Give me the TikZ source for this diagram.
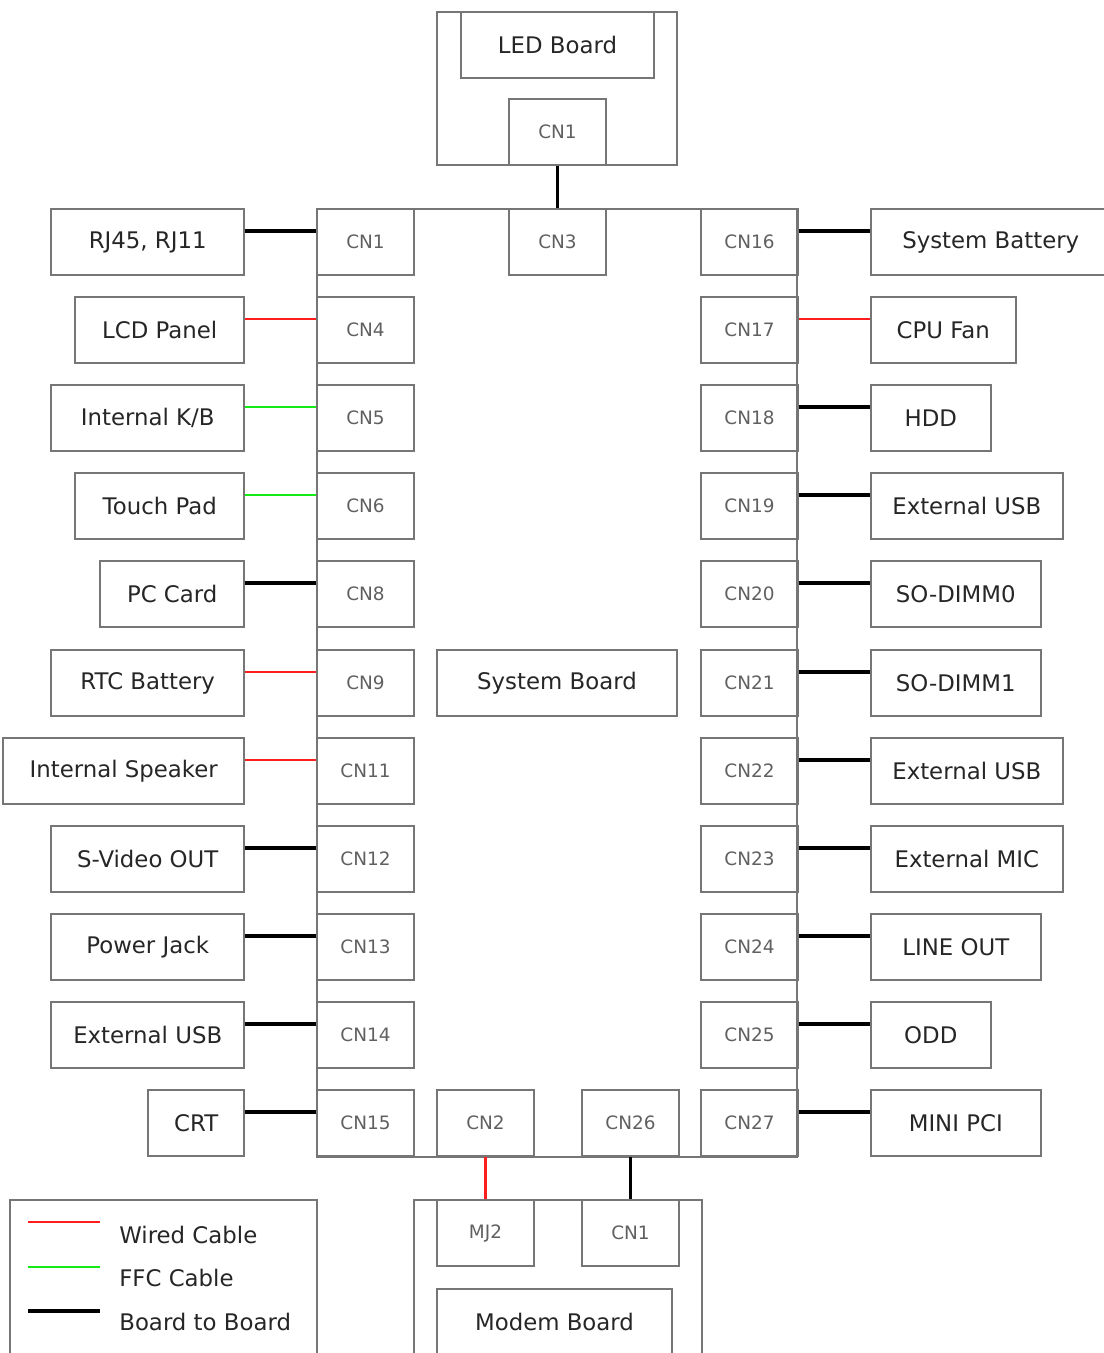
\documentclass[tikz,border=0pt]{standalone}
\usepackage{fontspec}
\setmainfont{DejaVu Sans}
\definecolor{edgegray}{RGB}{118,118,118}
\definecolor{wirered}{RGB}{255,30,30}
\definecolor{ffcgreen}{RGB}{20,235,20}

\begin{document}
\begin{tikzpicture}[
  x=0.02cm, y=-0.02cm,
  box/.style={draw=edgegray, line width=0.9pt, inner sep=0pt, minimum height=1.32cm, text=black!85},
  dev/.style={box, font=\fontsize{13}{15}\selectfont},
  cn/.style={box, minimum width=1.94cm, font=\fontsize{10.5}{12}\selectfont, text=gray!75!black},
  legtext/.style={anchor=west, inner sep=0pt, font=\fontsize{13}{15}\selectfont, text=black!85},
  wired/.style={draw=wirered, line width=1.6pt},
  ffc/.style={draw=ffcgreen, line width=1.6pt},
  b2b/.style={draw=black, line width=1.8pt},
]
\useasboundingbox (0,0) rectangle (1104,1353);

% LED board
\node[box, minimum width=4.8cm, minimum height=3.06cm] (ledb) at (557,88.5) {};
\node[dev, minimum width=3.86cm] (ledlbl) at (557.5,45) {LED Board};
\node[cn] (ledcn1) at (557.5,132) {CN1};

% System board
\node[box, minimum width=9.6cm, minimum height=18.96cm] (mainb) at (557,683) {};
\node[dev, minimum width=4.8cm] (sysb) at (557,683) {System Board};
\node[cn] (cn3) at (557.5,242) {CN3};

% left connectors
\node[cn] (cn1)  at (365.5,242)  {CN1};
\node[cn] (cn4)  at (365.5,330)  {CN4};
\node[cn] (cn5)  at (365.5,418)  {CN5};
\node[cn] (cn6)  at (365.5,506)  {CN6};
\node[cn] (cn8)  at (365.5,594)  {CN8};
\node[cn] (cn9)  at (365.5,683)  {CN9};
\node[cn] (cn11) at (365.5,771)  {CN11};
\node[cn] (cn12) at (365.5,859)  {CN12};
\node[cn] (cn13) at (365.5,947)  {CN13};
\node[cn] (cn14) at (365.5,1035) {CN14};
\node[cn] (cn15) at (365.5,1123) {CN15};

% right connectors
\node[cn] (cn16) at (749.5,242)  {CN16};
\node[cn] (cn17) at (749.5,330)  {CN17};
\node[cn] (cn18) at (749.5,418)  {CN18};
\node[cn] (cn19) at (749.5,506)  {CN19};
\node[cn] (cn20) at (749.5,594)  {CN20};
\node[cn] (cn21) at (749.5,683)  {CN21};
\node[cn] (cn22) at (749.5,771)  {CN22};
\node[cn] (cn23) at (749.5,859)  {CN23};
\node[cn] (cn24) at (749.5,947)  {CN24};
\node[cn] (cn25) at (749.5,1035) {CN25};
\node[cn] (cn27) at (749.5,1123) {CN27};

% bottom connectors
\node[cn] (cn2)  at (485.5,1123) {CN2};
\node[cn] (cn26) at (630.5,1123) {CN26};

% left devices
\node[dev, anchor=east, minimum width=3.86cm] (rj)      at (245,242)  {RJ45, RJ11};
\node[dev, anchor=east, minimum width=3.38cm] (lcd)     at (245,330)  {LCD Panel};
\node[dev, anchor=east, minimum width=3.86cm] (kb)      at (245,418)  {Internal K/B};
\node[dev, anchor=east, minimum width=3.38cm] (tpad)    at (245,506)  {Touch Pad};
\node[dev, anchor=east, minimum width=2.88cm] (pccard)  at (245,594)  {PC Card};
\node[dev, anchor=east, minimum width=3.86cm] (rtc)     at (245,683)  {RTC Battery};
\node[dev, anchor=east, minimum width=4.82cm] (spk)     at (245,771)  {Internal Speaker};
\node[dev, anchor=east, minimum width=3.86cm] (svideo)  at (245,859)  {S-Video OUT};
\node[dev, anchor=east, minimum width=3.86cm] (pwrjack) at (245,947)  {Power Jack};
\node[dev, anchor=east, minimum width=3.86cm] (usbL)    at (245,1035) {External USB};
\node[dev, anchor=east, minimum width=1.92cm] (crt)     at (245,1123) {CRT};

% right devices
\node[dev, anchor=west, minimum width=4.8cm]  (sysbat)  at (870,242)  {System Battery};
\node[dev, anchor=west, minimum width=2.9cm]  (fan)     at (870,330)  {CPU Fan};
\node[dev, anchor=west, minimum width=2.4cm]  (hdd)     at (870,418)  {HDD};
\node[dev, anchor=west, minimum width=3.84cm] (usbA)    at (870,506)  {External USB};
\node[dev, anchor=west, minimum width=3.4cm]  (dimm0)   at (870,594)  {SO-DIMM0};
\node[dev, anchor=west, minimum width=3.4cm]  (dimm1)   at (870,683)  {SO-DIMM1};
\node[dev, anchor=west, minimum width=3.84cm] (usbB)    at (870,771)  {External USB};
\node[dev, anchor=west, minimum width=3.84cm] (mic)     at (870,859)  {External MIC};
\node[dev, anchor=west, minimum width=3.4cm]  (lineout) at (870,947)  {LINE OUT};
\node[dev, anchor=west, minimum width=2.4cm]  (odd)     at (870,1035) {ODD};
\node[dev, anchor=west, minimum width=3.4cm]  (minipci) at (870,1123) {MINI PCI};

% Modem board
\node[box, minimum width=5.76cm, minimum height=3.6cm] (modemb) at (558,1290) {};
\node[cn] (mj2)   at (485.5,1233) {MJ2};
\node[cn] (mdcn1) at (630.5,1233) {CN1};
\node[dev, minimum width=4.7cm] (modemlbl) at (554.5,1322) {Modem Board};

% cables, left side
\draw[b2b]   ([yshift=2.2mm]rj.east)      -- ([yshift=2.2mm]cn1.west);
\draw[wired] ([yshift=2.2mm]lcd.east)     -- ([yshift=2.2mm]cn4.west);
\draw[ffc]   ([yshift=2.2mm]kb.east)      -- ([yshift=2.2mm]cn5.west);
\draw[ffc]   ([yshift=2.2mm]tpad.east)    -- ([yshift=2.2mm]cn6.west);
\draw[b2b]   ([yshift=2.2mm]pccard.east)  -- ([yshift=2.2mm]cn8.west);
\draw[wired] ([yshift=2.2mm]rtc.east)     -- ([yshift=2.2mm]cn9.west);
\draw[wired] ([yshift=2.2mm]spk.east)     -- ([yshift=2.2mm]cn11.west);
\draw[b2b]   ([yshift=2.2mm]svideo.east)  -- ([yshift=2.2mm]cn12.west);
\draw[b2b]   ([yshift=2.2mm]pwrjack.east) -- ([yshift=2.2mm]cn13.west);
\draw[b2b]   ([yshift=2.2mm]usbL.east)    -- ([yshift=2.2mm]cn14.west);
\draw[b2b]   ([yshift=2.2mm]crt.east)     -- ([yshift=2.2mm]cn15.west);

% cables, right side
\draw[b2b]   ([yshift=2.2mm]cn16.east) -- ([yshift=2.2mm]sysbat.west);
\draw[wired] ([yshift=2.2mm]cn17.east) -- ([yshift=2.2mm]fan.west);
\draw[b2b]   ([yshift=2.2mm]cn18.east) -- ([yshift=2.2mm]hdd.west);
\draw[b2b]   ([yshift=2.2mm]cn19.east) -- ([yshift=2.2mm]usbA.west);
\draw[b2b]   ([yshift=2.2mm]cn20.east) -- ([yshift=2.2mm]dimm0.west);
\draw[b2b]   ([yshift=2.2mm]cn21.east) -- ([yshift=2.2mm]dimm1.west);
\draw[b2b]   ([yshift=2.2mm]cn22.east) -- ([yshift=2.2mm]usbB.west);
\draw[b2b]   ([yshift=2.2mm]cn23.east) -- ([yshift=2.2mm]mic.west);
\draw[b2b]   ([yshift=2.2mm]cn24.east) -- ([yshift=2.2mm]lineout.west);
\draw[b2b]   ([yshift=2.2mm]cn25.east) -- ([yshift=2.2mm]odd.west);
\draw[b2b]   ([yshift=2.2mm]cn27.east) -- ([yshift=2.2mm]minipci.west);

% board to board, vertical
\draw[b2b]   (ledcn1.south) -- (cn3.north);
\draw[wired] (cn2.south)    -- (mj2.north);
\draw[b2b]   (cn26.south)   -- (mdcn1.north);

% Legend
\node[box, minimum width=6.14cm, minimum height=3.6cm] (legend) at (163.5,1290) {};
\draw[wired] (28,1222) -- (100,1222);
\draw[ffc]   (28,1267) -- (100,1267);
\draw[b2b]   (28,1311) -- (100,1311);
\node[legtext] (lgwired) at (119,1235) {Wired Cable};
\node[legtext] (lgffc)   at (119,1278) {FFC Cable};
\node[legtext] (lgb2b)   at (119,1322) {Board to Board};

\end{tikzpicture}
\end{document}
